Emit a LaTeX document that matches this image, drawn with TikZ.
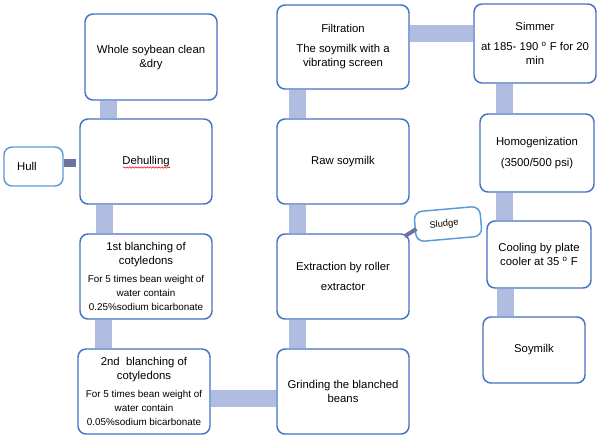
\documentclass[tikz,border=0pt]{standalone}
\usepackage{fontspec}
\setmainfont{Liberation Sans}
\usetikzlibrary{calc,backgrounds,decorations.pathmorphing}
\definecolor{boxblue}{RGB}{68,114,196}
\definecolor{barblue}{RGB}{176,188,224}
\definecolor{hullblue}{RGB}{91,155,213}
\definecolor{darkbar}{RGB}{110,114,160}
\newcommand{\smtxt}{\fontsize{7.4}{9.2}\selectfont}
\begin{document}
\begin{tikzpicture}[x=0.75pt,y=-0.75pt,
  box/.style={draw=boxblue, line width=1.1pt, rounded corners=6pt, fill=white,
    inner sep=0pt, align=center, font=\fontsize{8.5}{10.5}\selectfont},
  bigbox/.style={box, minimum width=99pt, minimum height=63.75pt},
  lightbox/.style={draw=hullblue, line width=1.1pt, rounded corners=6pt, fill=white,
    inner sep=0pt},
  bar/.style={draw=barblue, line width=12.5pt},
  darkconn/.style={draw=darkbar, line width=6pt}]
\useasboundingbox (0,0) rectangle (600,440);
% left column
\node[bigbox, minimum height=64.5pt] (whole) at (151,57) {\strut Whole soybean clean\\\&dry};
\node[bigbox] (dehull) at (146,161.5) {\strut Dehulling};
\node[lightbox, minimum width=44.25pt, minimum height=29.25pt,
  font=\fontsize{8.5}{10.5}\selectfont] (hull) at (33.5,166.5) {Hull\kern10pt};
\node[bigbox] (b1) at (146,276.5) {1st blanching of\\cotyledons\\[3pt]\smtxt For 5 times bean weight of\\\smtxt water contain\\\smtxt 0.25\%sodium bicarbonate};
\node[bigbox] (b2) at (144,391.5) {2nd\ \ blanching of\\cotyledons\\[3pt]\smtxt For 5 times bean weight of\\\smtxt water contain\\\smtxt 0.05\%sodium bicarbonate};
% middle column
\node[bigbox] (grind) at (343,391.5) {Grinding the blanched\\beans};
\node[bigbox] (extr) at (343,276.5) {Extraction by roller\\[4.5pt]extractor};
\node[bigbox] (raw) at (343,161.5) {\strut Raw soymilk};
\node[bigbox, minimum height=63pt] (filt) at (343,47) {Filtration\\[4.5pt]The soymilk with a\\vibrating screen};
\node[lightbox, rotate=5, minimum width=49.5pt, minimum height=22.5pt,
  font=\fontsize{7}{8.5}\selectfont] (sludge) at (448,224) {Sludge\kern6pt};
% right column
\node[box, minimum width=91.5pt, minimum height=59.25pt] (simmer) at (535,43.5) {Simmer\\[4.5pt]at 185- 190 \textsuperscript{o} F for 20\\min};
\node[box, minimum width=85.5pt, minimum height=58.5pt] (homog) at (537,153) {Homogenization\\[5pt](3500/500 psi)};
\node[box, minimum width=78pt, minimum height=50.25pt] (cool) at (539,254.5) {Cooling by plate\\cooler at 35 \textsuperscript{o} F};
\node[box, minimum width=76.5pt, minimum height=49.5pt] (soy) at (534,350) {\strut Soymilk};
% spell-check underline
\draw[red, line width=0.4pt, decorate, decoration={snake, amplitude=0.5pt, segment length=2.2pt}]
  ($(dehull.center)+(-23,6)$) -- ($(dehull.center)+(24,6)$);
% sludge connector
\draw[draw=darkbar, line width=3pt] ($(extr.north east)+(-5,3)$) -- ($(sludge.west)+(2,2)$);
\begin{scope}[on background layer]
  \draw[bar] ($(whole.south west)+(24.5,0)$) coordinate (t1) -- (t1 |- dehull.north);
  \draw[bar] ($(dehull.south west)+(25.5,0)$) coordinate (t2) -- (t2 |- b1.north);
  \draw[bar] ($(b1.south west)+(24.5,0)$) coordinate (t3) -- (t3 |- b2.north);
  \draw[bar] ($(b2.south east)+(0,-36.5)$) coordinate (t4) -- (t4 -| grind.west);
  \draw[bar] ($(grind.north west)+(21,0)$) coordinate (t5) -- (t5 |- extr.south);
  \draw[bar] ($(extr.north west)+(21,0)$) coordinate (t6) -- (t6 |- raw.south);
  \draw[bar] ($(raw.north west)+(21,0)$) coordinate (t7) -- (t7 |- filt.south);
  \draw[bar] ($(filt.north east)+(0,29)$) coordinate (t8) -- (t8 -| simmer.west);
  \draw[bar] ($(simmer.south west)+(31,0)$) coordinate (t9) -- (t9 |- homog.north);
  \draw[bar] ($(homog.south west)+(25,0)$) coordinate (t10) -- (t10 |- cool.north);
  \draw[bar] ($(cool.south west)+(19.5,0)$) coordinate (t11) -- (t11 |- soy.north);
  \draw[darkconn, shorten >=2.25pt] ($(hull.east)+(0,-3.5)$) coordinate (t12) -- (t12 -| dehull.west);
\end{scope}
\end{tikzpicture}
\end{document}
